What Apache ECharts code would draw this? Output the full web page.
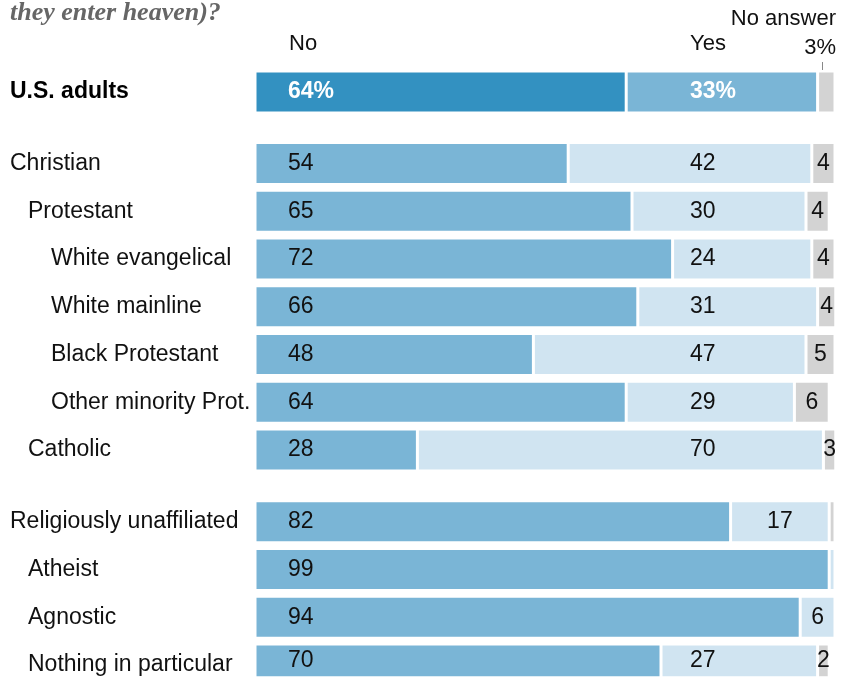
<!DOCTYPE html>
<html>
<head>
<meta charset="utf-8">
<script src="https://cdn.jsdelivr.net/npm/echarts@6/dist/echarts.min.js"></script>
<style>html,body{margin:0;padding:0;background:#fff}#c{width:846px;height:679px}</style>
</head>
<body>
<div id="c"></div>
<script>
const categories = ['U.S. adults','Christian','Protestant','White evangelical','White mainline','Black Protestant','Other minority Prot.','Catholic','Religiously unaffiliated','Atheist','Agnostic','Nothing in particular'];
const levels = [0,0,1,2,2,2,2,1,0,1,1,1];
const noValues  = [64,54,65,72,66,48,64,28,82,99,94,70];
const yesValues = [33,42,30,24,31,47,29,70,17,1,6,27];
const naValues  = [3,4,4,4,4,5,6,3,1,0,1,2];
const groupStartRows = [1, 8];
const headerLabels = {no:'No', yes:'Yes', na:'No answer', naTotal:'3%'};

const FONT = '"Liberation Sans", Arial, sans-serif';
const C_DARK = '#3391c1', C_MED = '#7ab5d6', C_LIGHT = '#d0e4f1', C_GREY = '#d3d3d3';

// Build slot layout: each row 2 slots, extra slot before group starts, padding slot at top
const slotRow = [-1];
categories.forEach((c, i) => {
  if (i > 0) { slotRow.push(-1); if (groupStartRows.includes(i)) slotRow.push(-1); }
  slotRow.push(i);
});
const slotNames = slotRow.map((r, k) => r >= 0 ? categories[r] : ' '.repeat(k + 1));
const SLOT = 23.875;

const chart = echarts.init(document.getElementById('c'), null, {renderer:'canvas'});

function buildSeries(px) {
  const mk = (vals, kind) => slotRow.map(r => {
    if (r < 0) return '-';
    const v = vals[r];
    const lead = r === 0;
    const item = {value: v, itemStyle: {color: kind === 'no' ? (lead ? C_DARK : C_MED) : kind === 'yes' ? (lead ? C_MED : C_LIGHT) : C_GREY}};
    const base = {show: true, fontFamily: FONT, fontSize: 23, color: lead ? '#fff' : '#111', fontWeight: lead ? 'bold' : 'normal',
      formatter: lead ? '{c}%' : '{c}', verticalAlign: 'middle'};
    if (kind === 'no') {
      item.label = Object.assign(base, {position: [33, '50%'], align: 'left'});
    } else if (kind === 'yes') {
      const start = noValues[r];
      const target = 75;
      if (v < 2) item.label = {show: false};
      else if (px && start < target - 1) {
        item.label = Object.assign(base, {position: [px(target) - px(start), '50%'], align: 'left'});
      } else {
        item.label = Object.assign(base, {position: 'inside', align: 'center'});
      }
    } else {
      if (lead || v < 2) item.label = {show: false};
      else item.label = Object.assign(base, {position: 'inside', align: 'center'});
    }
    return item;
  });
  const common = {type: 'bar', stack: 'total', barWidth: 42, clip: true, itemStyle: {borderColor: '#fff', borderWidth: 1.5}, silent: true};
  return [
    Object.assign({name: 'No', data: mk(noValues, 'no')}, common),
    Object.assign({name: 'Yes', data: mk(yesValues, 'yes')}, common),
    Object.assign({name: 'No answer', data: mk(naValues, 'na')}, common)
  ];
}

const option = {
  animation: false,
  grid: {left: 255, width: 580, top: 80 - SLOT, height: SLOT * slotRow.length, containLabel: false},
  xAxis: {type: 'value', min: 0, max: 100, show: false},
  yAxis: {
    type: 'category', inverse: true, data: slotNames,
    axisLine: {show: false}, axisTick: {show: false}, splitLine: {show: false},
    axisLabel: {
      interval: 0, align: 'left', margin: 245,
      formatter: (v, i) => {
        const r = slotRow[i];
        if (r === undefined || r < 0) return '';
        const lv = levels[r];
        const style = r === 0 ? 'b' : ('l' + lv);
        return '{' + style + '|' + categories[r] + '}';
      },
      rich: {
        b: {fontFamily: FONT, fontSize: 23, fontWeight: 'bold', color: '#000'},
        l0: {fontFamily: FONT, fontSize: 23, color: '#111'},
        l1: {fontFamily: FONT, fontSize: 23, color: '#111', padding: [0, 0, 0, 18]},
        l2: {fontFamily: FONT, fontSize: 23, color: '#111', padding: [0, 0, 0, 41]}
      }
    }
  },
  graphic: [
    {type: 'text', x: 10, y: 13, style: {text: 'they enter heaven)?', font: 'italic bold 26px "Liberation Serif", serif', fill: '#666', verticalAlign: 'middle', align: 'left'}},
    {type: 'text', x: 289, y: 44, style: {text: headerLabels.no, font: '22px ' + FONT, fill: '#111', verticalAlign: 'middle', align: 'left'}},
    {type: 'text', x: 690, y: 44, style: {text: headerLabels.yes, font: '22px ' + FONT, fill: '#111', verticalAlign: 'middle', align: 'left'}},
    {type: 'text', x: 836, y: 19, style: {text: headerLabels.na, font: '22px ' + FONT, fill: '#111', verticalAlign: 'middle', align: 'right'}},
    {type: 'text', x: 836, y: 48, style: {text: headerLabels.naTotal, font: '22px ' + FONT, fill: '#111', verticalAlign: 'middle', align: 'right'}},
    {type: 'line', shape: {x1: 822.5, y1: 62, x2: 822.5, y2: 70}, style: {stroke: '#888', lineWidth: 1}}
  ],
  series: buildSeries(null)
};
chart.setOption(option);
const px = v => chart.convertToPixel({xAxisIndex: 0}, v);
chart.setOption({series: buildSeries(px)});
</script>
</body>
</html>
